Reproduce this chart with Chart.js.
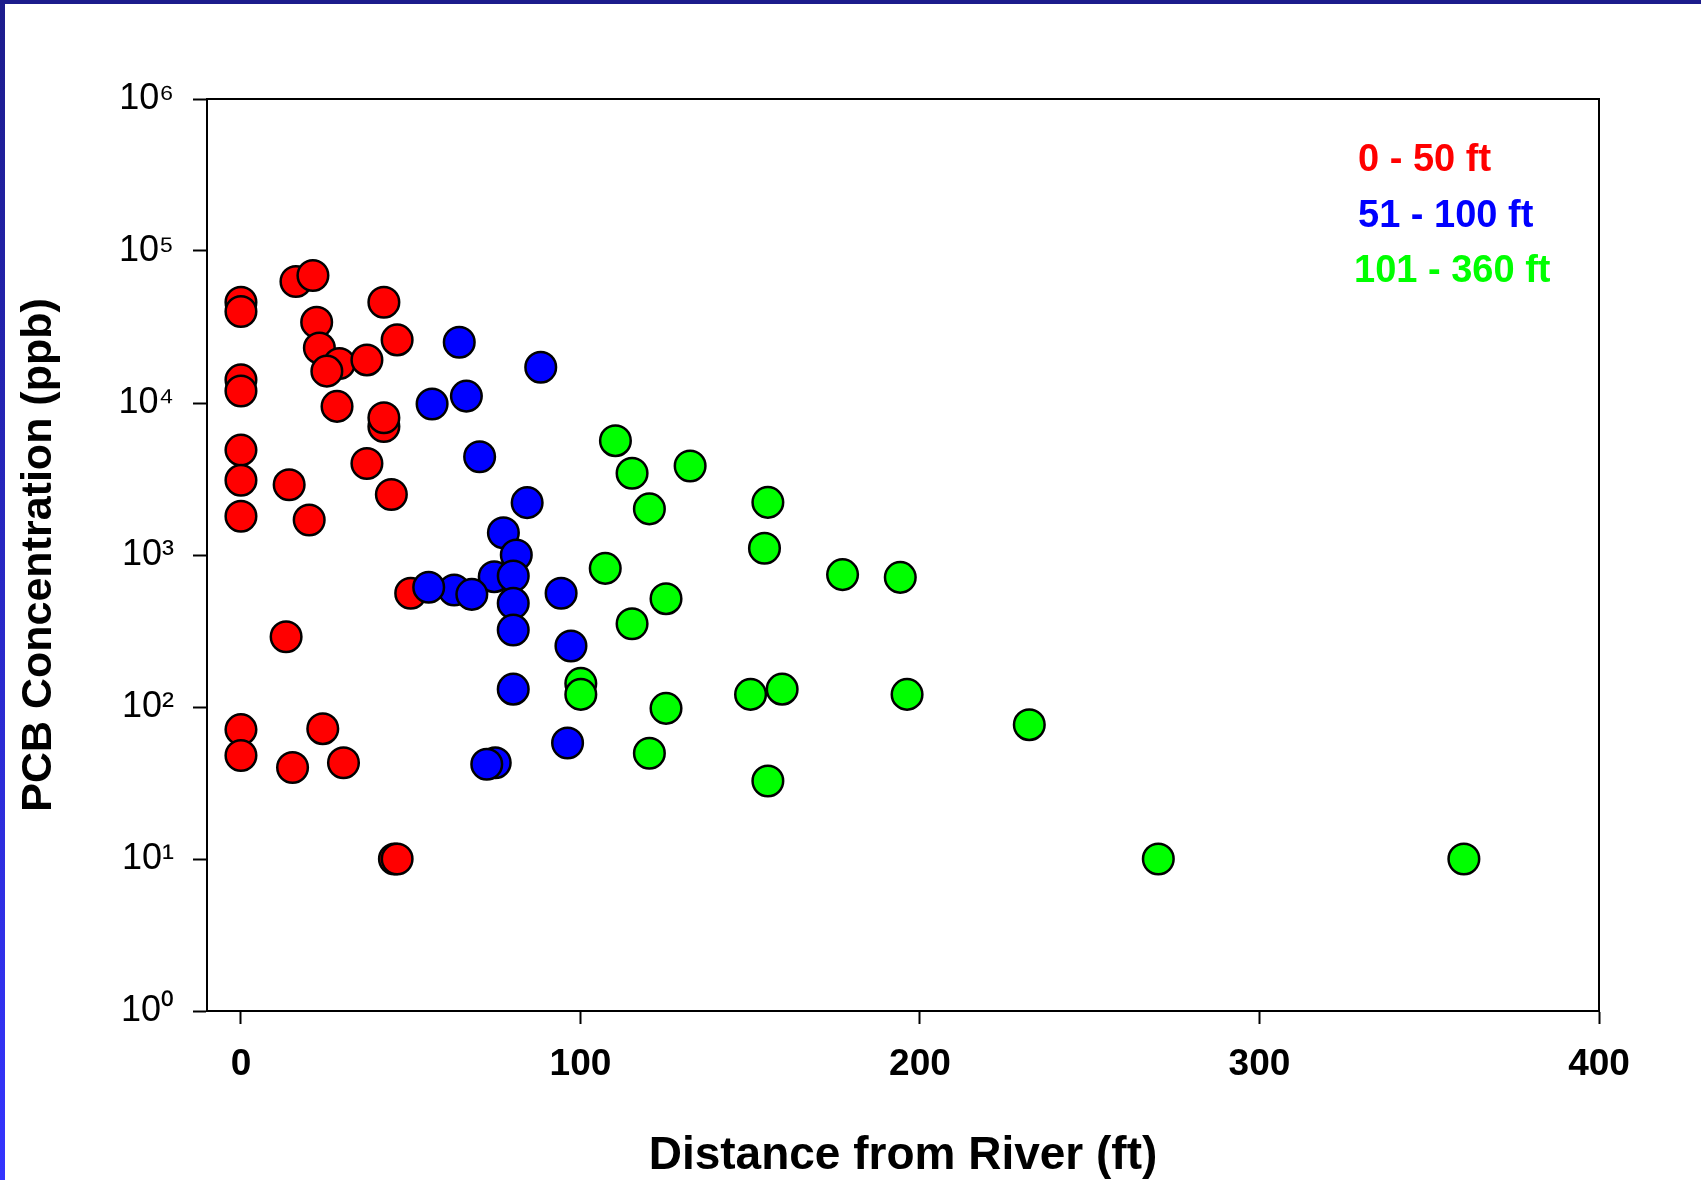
<!DOCTYPE html>
<html><head><meta charset="utf-8">
<script src="https://cdn.jsdelivr.net/npm/chart.js@4.4.1/dist/chart.umd.min.js"></script>
<style>
html,body{margin:0;padding:0;background:#fff;width:1701px;height:1180px;overflow:hidden;}
#wrap{position:absolute;left:0;top:0;width:1701px;height:1180px;}
#topbar{position:absolute;left:0;top:0;width:1701px;height:4px;background:#1c1c8c;}
#leftbar{position:absolute;left:0;top:0;width:5px;height:1180px;background:linear-gradient(#1c1c8c,#3434ff);}
</style></head><body>
<div id="wrap"><canvas id="c" width="1701" height="1180"></canvas></div>
<div id="topbar"></div><div id="leftbar"></div>
<script>
// ---- data ----
const seriesLabels = ['0 - 50 ft', '51 - 100 ft', '101 - 360 ft'];
const seriesColors = ['#ff0000', '#0000ff', '#00ff00'];

const redX = [0, 0, 0, 0, 0, 0, 0, 0, 0, 16.2, 21.2, 42.1, 22.3, 46, 23.1, 29, 37.1, 25.3, 28.3, 42.1, 42.1, 37.1, 14.2, 44.3, 20.1, 50, 13.3, 24.1, 15.2, 30.2, 45.2, 46];
const redY = [46000, 40000, 14200, 12000, 4900, 3100, 1800, 71, 48, 63000, 69000, 46000, 34000, 26000, 23000, 18200, 19200, 16200, 9500, 7000, 8000, 4000, 2900, 2500, 1700, 560, 290, 72, 40, 43, 10, 10];

const blueX = [64.3, 88.3, 56.3, 66.4, 70.3, 84.3, 77.3, 81.1, 74.6, 80.2, 62.8, 55.3, 68, 94.3, 80.2, 80.2, 97.2, 80.2, 96.2, 74.9, 72.4];
const blueY = [25100, 17200, 9850, 11100, 4430, 2210, 1400, 1000, 720, 728, 589, 613, 551, 560, 481, 321, 252, 131, 58, 43, 42];

const greenX = [110.3, 115.2, 132.3, 120.3, 155.2, 154.2, 107.3, 125.2, 115.2, 100.1, 100.1, 150.1, 159.4, 125.2, 120.3, 155.2, 177.2, 194.2, 196.2, 232.2, 270.2, 360.2];
const greenY = [5650, 3450, 3850, 2010, 2220, 1107, 817, 516, 353, 143, 121, 121, 131, 98, 49.6, 32.6, 743, 713, 121, 76.5, 10, 10];

const xTickValues = [0, 100, 200, 300, 400];
const yTickValues = [1, 10, 100, 1000, 10000, 100000, 1000000];
const yTickLabels = ['10\u2070', '10\u00b9', '10\u00b2', '10\u00b3', '10\u2074', '10\u2075', '10\u2076'];

const xTitle = 'Distance from River (ft)';
const yTitle = 'PCB Concentration (ppb)';
// --------------

const toPts = (xs, ys) => xs.map((x, i) => ({x: x, y: ys[i]}));
const seriesX = [redX, blueX, greenX];
const seriesY = [redY, blueY, greenY];

const datasets = seriesLabels.map((lab, i) => ({
  label: lab,
  data: toPts(seriesX[i], seriesY[i]),
  backgroundColor: seriesColors[i],
  borderColor: '#000',
  borderWidth: 2.5,
  pointRadius: 15.3,
  pointHoverRadius: 15.3,
  order: 3 - i
}));

const FONT = '"Liberation Sans", Arial, sans-serif';

const framePlugin = {
  id: 'frame',
  afterDraw(chart) {
    const a = chart.chartArea, c = chart.ctx;
    c.save();
    c.strokeStyle = '#000';
    c.lineWidth = 2;
    c.beginPath();
    c.moveTo(a.left, a.top);
    c.lineTo(a.right, a.top);
    c.lineTo(a.right, a.bottom);
    c.stroke();
    c.restore();
  }
};

const legendPlugin = {
  id: 'innerLegend',
  afterDraw(chart) {
    const a = chart.chartArea, c = chart.ctx;
    const offs = [[-241, 62], [-241, 118], [-245, 173]];
    c.save();
    c.font = 'bold 38px ' + FONT;
    c.textBaseline = 'middle';
    c.textAlign = 'left';
    chart.data.datasets.forEach((d, i) => {
      c.fillStyle = d.backgroundColor;
      c.fillText(d.label, a.right + offs[i][0], a.top + offs[i][1]);
    });
    c.restore();
  }
};

new Chart(document.getElementById('c'), {
  type: 'scatter',
  data: {datasets: datasets},
  options: {
    responsive: false,
    animation: false,
    devicePixelRatio: 1,
    layout: {padding: {left: 0, top: 99, right: 102, bottom: 0}},
    plugins: {legend: {display: false}, tooltip: {enabled: false}},
    scales: {
      x: {
        type: 'linear', position: 'bottom', min: -10, max: 400,
        afterBuildTicks: s => { s.ticks = xTickValues.map(v => ({value: v})); },
        afterFit: s => { s.height = 169; },
        grid: {drawOnChartArea: false, drawTicks: true, tickLength: 13, tickColor: '#000', tickWidth: 2},
        border: {display: true, color: '#000', width: 2},
        ticks: {color: '#000', font: {family: FONT, size: 37, weight: 'bold'}, padding: 19, maxRotation: 0},
        title: {display: true, text: xTitle, color: '#000', font: {family: FONT, size: 46, weight: 'bold', lineHeight: 1}, padding: {top: 0, bottom: 1}}
      },
      y: {
        type: 'logarithmic', position: 'left', min: 1, max: 1000000,
        afterBuildTicks: s => { s.ticks = yTickValues.map(v => ({value: v})); },
        afterFit: s => { s.width = 207; },
        grid: {drawOnChartArea: false, drawTicks: true, tickLength: 14, tickColor: '#000', tickWidth: 2},
        border: {display: true, color: '#000', width: 2},
        ticks: {
          color: '#000', font: {family: FONT, size: 36}, padding: 19,
          callback: (v) => { const k = yTickValues.indexOf(v); return k >= 0 ? yTickLabels[k] : ''; }
        },
        title: {display: true, text: yTitle, color: '#000', font: {family: FONT, size: 43, weight: 'bold'}, padding: {top: 13, bottom: 0}}
      }
    }
  },
  plugins: [framePlugin, legendPlugin]
});
</script>
</body></html>
